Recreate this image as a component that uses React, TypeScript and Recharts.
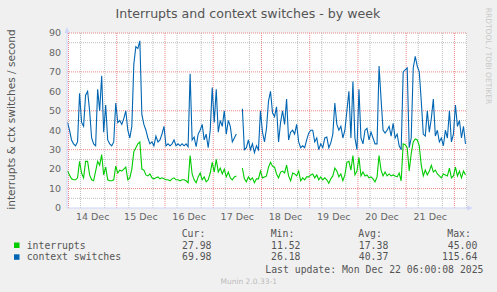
import React from "react";
import { LineChart, Line, XAxis, YAxis, CartesianGrid } from "recharts";

// hours after 14 Dec 00:00, one sample per hour starting at FIRST_HOUR
const FIRST_HOUR = -0.5;

const dayLabels = ["14 Dec", "15 Dec", "16 Dec", "17 Dec", "18 Dec", "19 Dec", "20 Dec", "21 Dec"];
const dayLabelHours = [12, 36, 60, 84, 108, 132, 156, 180];
const yTicks = [0, 10, 20, 30, 40, 50, 60, 70, 80, 90];

const contextSwitches = [
  44, 40, 35, 33, 32, 34, 59, 44, 42, 58,
  60, 50, 36, 33, 32, 61, 50, 68, 39, 53,
  35, 33, 32, 34, 54, 44, 45, 43, 46, 50,
  40, 36, 42, 74, 83, 82, 86, 48, 43, 40,
  36, 33, 34, 32, 37, 34, 35, 38, 42, 32,
  33, 32, 33, 35, 32, 33, 32, 33, 32, 33,
  31.5, 69, 35, 36.5, 31.5, 38, 40, 43, 35, 38,
  31, 40, 62, 44, 61, 39, 45, 42, 50, 38,
  45, 42, 34, 36, 38, null, null, 51, 30, 31,
  35, 30, 33, 28.5, 32, 30, 50, 39, 34, 41,
  55, 60, 49, 47, 52, 34, 44, 50, 43, 56,
  35, 39, 40, 38, 43, 34, 31, 32, 31, 35,
  38.5, 40, 40, 34, 36, 30, 33, 31, 36, 36.5,
  31, 33.5, 38, 54, 43, 40, 42, 36, 40, 50,
  60, 36, 65, 36, 30, 61, 36, 33, 40, 41,
  35, 39, 36, 33, 33, 73, 56, 40, 38.5, 40,
  42, 37, 43.5, 36, 38, 32, 30, 70, 71, 72,
  31, 36, 72, 78, 73, 70, 55, 38, 37, 50,
  39, 46, 56, 37, 40, 34, 36, 32, 40, 36,
  50, 34, 38, 53, 42, 45, 36, 42, 33,
];

const interrupts = [
  19, 17, 15, 14.5, 14.5, 15.5, 24, 18, 15.5, 24,
  24, 17, 14.5, 14, 19, 24, 22, 27.5, 17, 21,
  14.5, 14, 14, 14.5, 21.5, 18, 19.5, 19, 20, 21,
  14.5, 15.5, 20, 29, 31, 33, 34, 20, 19.5, 17,
  16.5, 17.5, 15.5, 15, 15.5, 16, 15, 15.5, 15, 14.5,
  14.5, 14, 15, 15.5, 14.5, 14.5, 14, 14.5, 14.5, 14,
  13, 27, 17.5, 14.5, 13, 16, 18, 14.5, 16, 13.5,
  14.5, 18, 23.5, 18.5, 25, 18.5, 20.5, 17.5, 20, 16,
  18.5, 15.5, 14.5, 16, 16.5, null, null, 20.5, 15, 13.5,
  16, 14.5, 15.5, 13, 15, 15, 19, 15.5, 16, 16.5,
  21, 23.5, 21.5, 21, 17.5, 15.5, 18.5, 19, 18, 22,
  16.5, 14, 18, 17.5, 16.5, 19, 14, 15.5, 14.5, 16,
  16, 17, 17.5, 15.5, 17, 14.5, 16, 14.5, 15.5, 14.5,
  12.7, 15, 16.5, 20.5, 19, 16, 17.5, 14, 17, 23.5,
  24, 19.5, 27, 17, 19, 26, 16.5, 18.5, 16.5, 17,
  15.5, 16, 15, 13.5, 16, 27, 19.5, 16.5, 18.5, 16.5,
  17.5, 16.5, 17, 16.5, 16, 18, 14, 33, 32.5, 31,
  19, 28, 34, 35.5, 35, 32, 22, 16.5, 19.5, 17,
  19, 22, 18.5, 19.5, 17.5, 16.5, 15.5, 17.5, 17, 16.5,
  20.5, 15.5, 16.5, 21, 16.5, 19, 15.5, 19, 17,
];

const seriesNames = ["interrupts", "context switches"];
const seriesColors = ["#00cc00", "#0066b3"];
const curValues = ["27.98", "69.98"];
const minValues = ["11.52", "26.18"];
const avgValues = ["17.38", "40.37"];
const maxValues = ["45.00", "115.64"];

const data = interrupts.map((v, i) => ({
  hour: FIRST_HOUR + i,
  interrupts: v,
  ctx: contextSwitches[i],
}));

const minorX: number[] = [];
const majorX: number[] = [];
for (let h = 0; h <= 198; h += 6) (h % 24 === 0 ? majorX : minorX).push(h);
const minorY = [5, 15, 25, 35, 45, 55, 65, 75, 85];
const majorY = [10, 20, 30, 40, 50, 60, 70, 80, 90];

const AXIS = "#cfd6f8";
const FONT = "DejaVu Sans, sans-serif";
const MONO = "DejaVu Sans Mono, monospace";

export default function App() {
  return (
    <div style={{ position: "absolute", left: 0, top: 0, width: 497, height: 292, background: "#f0f0f0", overflow: "hidden" }}>
      <LineChart width={497} height={292} data={data} margin={{ top: 33, right: 30, left: 0, bottom: 0 }}>
        <CartesianGrid
          fill="#ffffff"
          stroke="#bdbdbd"
          strokeDasharray="1 1"
          verticalValues={minorX}
          horizontalValues={minorY}
        />
        <CartesianGrid
          stroke="#ee8888"
          strokeDasharray="1 1"
          verticalValues={majorX}
          horizontalValues={majorY}
        />
        <XAxis
          dataKey="hour"
          type="number"
          domain={[-0.75, 198.25]}
          ticks={dayLabelHours}
          tickFormatter={(h: number) => dayLabels[dayLabelHours.indexOf(h)]}
          height={84}
          tickSize={0}
          tickMargin={5}
          axisLine={{ stroke: AXIS }}
          tick={{ fill: "#666", fontSize: 9.5, fontFamily: FONT }}
          allowDataOverflow
        />
        <YAxis
          domain={[0, 90]}
          ticks={yTicks}
          width={67}
          tickSize={0}
          tickMargin={6}
          axisLine={{ stroke: AXIS }}
          tick={{ fill: "#666", fontSize: 9.5, fontFamily: FONT }}
          allowDataOverflow
        />
        <Line dataKey="ctx" stroke={seriesColors[1]} strokeWidth={1.1} dot={false} isAnimationActive={false} />
        <Line dataKey="interrupts" stroke={seriesColors[0]} strokeWidth={1.1} dot={false} isAnimationActive={false} />
      </LineChart>

      <svg width={497} height={292} style={{ position: "absolute", left: 0, top: 0, pointerEvents: "none" }}>
        <polygon points="64.5,33 69.5,33 67,27" fill={AXIS} />
        <polygon points="467,205.5 467,210.5 473,208" fill={AXIS} />
        <text x={248} y={18.3} textAnchor="middle" fontFamily={FONT} fontSize={12.6} fill="#555">
          Interrupts and context switches - by week
        </text>
        <text
          x={0}
          y={0}
          transform="translate(11,119.5) rotate(-90)"
          textAnchor="middle"
          dominantBaseline="central"
          fontFamily={FONT}
          fontSize={10.6}
          fill="#555"
        >
          interrupts &amp; ctx switches / second
        </text>
        <text
          x={0}
          y={0}
          transform="translate(488,56) rotate(90)"
          textAnchor="middle"
          dominantBaseline="central"
          fontFamily={FONT}
          fontSize={7.5}
          fill="#c8c8c8"
        >
          RRDTOOL / TOBI OETIKER
        </text>

        <g fontFamily={MONO} fontSize={9.8} fill="#555">
          <text x={181.7} y={236.7}>Cur:</text>
          <text x={270.7} y={236.7}>Min:</text>
          <text x={358.3} y={236.7}>Avg:</text>
          <text x={447.3} y={236.7}>Max:</text>
          {seriesNames.map((name, i) => {
            const y = 248.5 + i * 11.8;
            return (
              <g key={name}>
                <rect x={14} y={y - 6} width={5.5} height={5.5} fill={seriesColors[i]} />
                <text x={26.7} y={y}>{name}</text>
                <text x={211.5} y={y} textAnchor="end">{curValues[i]}</text>
                <text x={300.5} y={y} textAnchor="end">{minValues[i]}</text>
                <text x={388.3} y={y} textAnchor="end">{avgValues[i]}</text>
                <text x={477.3} y={y} textAnchor="end">{maxValues[i]}</text>
              </g>
            );
          })}
          <text x={483.5} y={273.3} textAnchor="end">Last update: Mon Dec 22 06:00:08 2025</text>
        </g>
        <text x={248.7} y={284} textAnchor="middle" fontFamily={FONT} fontSize={7.5} fill="#bbb">
          Munin 2.0.33-1
        </text>
      </svg>
    </div>
  );
}
